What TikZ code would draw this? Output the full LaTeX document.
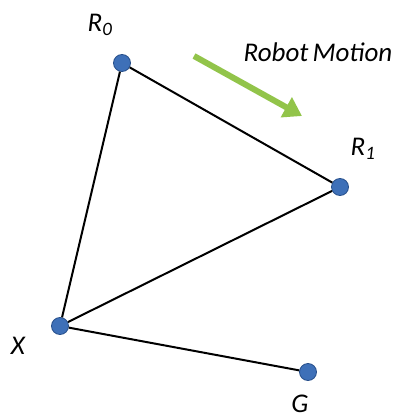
\documentclass[tikz,border=0pt]{standalone}
\usepackage{fontspec}
\setmainfont{Carlito}
\usetikzlibrary{arrows.meta}
\definecolor{dotblue}{RGB}{62,112,184}
\definecolor{dotedge}{RGB}{40,80,140}
\definecolor{movegreen}{RGB}{146,196,74}

\begin{document}
\begin{tikzpicture}[x=1pt,y=-1pt,
  dot/.style={circle,fill=dotblue,draw=dotedge,line width=0.8pt,inner sep=0pt,minimum size=17pt},
  lbl/.style={font=\fontsize{27}{30}\selectfont\itshape,inner sep=0pt},
  edge/.style={line width=2pt}]
  \useasboundingbox (0,0) rectangle (394,420);
  % points
  \node[dot] (r0) at (122,63) {};
  \node[dot] (r1) at (340,187) {};
  \node[dot] (x) at (60,326) {};
  \node[dot] (g) at (308,372) {};
  % labels
  \node[lbl] (r0l) at (100,25) {R\textsubscript{0}};
  \node[lbl] (r1l) at (363,149) {R\textsubscript{1}};
  \node[lbl] (xl) at (18,346) {X};
  \node[lbl] (gl) at (300,404) {G};
  \node[lbl] (motion) at (318,52) {Robot\hspace{-2pt} Motion};
  % edges
  \draw[edge] (r0) -- (r1);
  \draw[edge] (r0) -- (x);
  \draw[edge] (r1) -- (x);
  \draw[edge] (x) -- (g);
  % motion arrow
  \coordinate (m0) at (194,56);
  \coordinate (m1) at (302,116);
  \draw[movegreen,line width=6pt,-{Triangle[width=22pt,length=18pt]}] (m0) -- (m1);
\end{tikzpicture}
\end{document}
